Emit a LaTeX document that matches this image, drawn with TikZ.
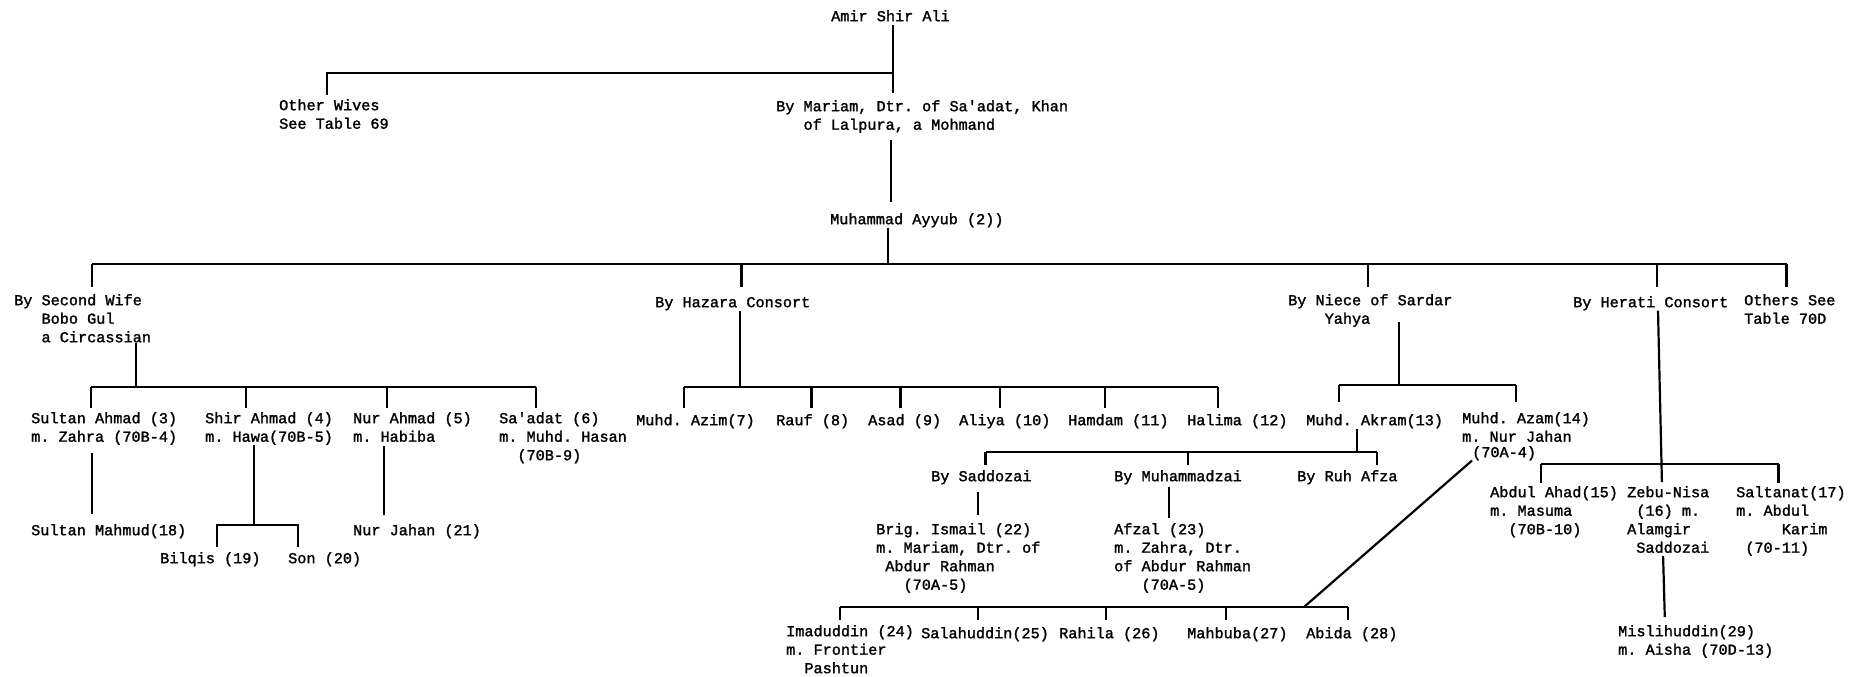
\documentclass[tikz,border=0pt]{standalone}
\usepackage{fontspec}
\setmonofont{Liberation Mono}[FakeBold=1.6]
\newcommand\pad[1]{\hspace*{\dimexpr0.6em*#1\relax}}

\begin{document}
\begin{tikzpicture}[x=1pt,y=-1pt,
    person/.style={anchor=north west,yshift=13pt,inner sep=0pt,align=left,
      execute at begin node={\rule{0pt}{13pt}},
      font=\ttfamily\fontsize{15.2}{18.5}\selectfont\frenchspacing},
    bus/.style={line width=2.2pt},
    drop/.style={bus,shorten >=#1},
    drop/.default=4pt,
    link/.style 2 args={bus,shorten <=#1,shorten >=#2}]
  \fill[white] (0,0) rectangle (1850,677);
  \useasboundingbox (0,0) rectangle (1850,677);
  % top of the table
  \node[person] (amir) at (831,21) {Amir Shir Ali};
  \node[person] (other) at (279,112) {Other Wives\\See Table 69};
  \node[person] (mariam) at (776,113) {By Mariam, Dtr. of Sa'adat, Khan\\\pad{3}of Lalpura, a Mohmand};
  \node[person] (ayyub) at (830,224) {Muhammad Ayyub (2))};
  % wives of Ayyub
  \node[person] (second) at (14,307) {By Second Wife\\\pad{3}Bobo Gul\\\pad{3}a Circassian};
  \node[person] (hazara) at (655,307) {By Hazara Consort};
  \node[person] (niece) at (1288,307) {By Niece of Sardar\\\pad{4}Yahya};
  \node[person] (herati) at (1573,307) {By Herati Consort};
  \node[person] (others) at (1744,307) {Others See\\Table 70D};
  % by the second wife
  \foreach \n/\x/\t in {sultanA/31/{Sultan Ahmad (3)\\m. Zahra (70B-4)},
      shirA/205/{Shir Ahmad (4)\\m. Hawa(70B-5)},
      nurA/353/{Nur Ahmad (5)\\m. Habiba},
      saadat/499/{Sa'adat (6)\\m. Muhd. Hasan\\\pad{2}(70B-9)}}
    \node[person] (\n) at (\x,425) {\t};
  \node[person] (sultanM) at (31,535) {Sultan Mahmud(18)};
  \node[person] (bilqis) at (160,563) {Bilqis (19)};
  \node[person] (son) at (288,563) {Son (20)};
  \node[person] (nurJ) at (353,535) {Nur Jahan (21)};
  % by the Hazara consort
  \foreach \n/\x/\t in {azim/636/Muhd. Azim(7),rauf/776/Rauf (8),asad/868/Asad (9),
      aliya/959/Aliya (10),hamdam/1068/Hamdam (11),halima/1187/Halima (12)}
    \node[person] (\n) at (\x,425) {\t};
  % by the niece of Sardar Yahya
  \node[person] (akram) at (1306,425) {Muhd. Akram(13)};
  \node[person] (azam) at (1462,425) {Muhd. Azam(14)\\m. Nur Jahan};
  \node[person] (azamref) at (1472,457) {(70A-4)};
  \node[person] (saddozai) at (931,481) {By Saddozai};
  \node[person] (muhammadzai) at (1114,481) {By Muhammadzai};
  \node[person] (ruhafza) at (1297,481) {By Ruh Afza};
  \node[person] (ismail) at (876,536) {Brig. Ismail (22)\\m. Mariam, Dtr. of\\\pad{1}Abdur Rahman\\\pad{3}(70A-5)};
  \node[person] (afzal) at (1114,536) {Afzal (23)\\m. Zahra, Dtr.\\of Abdur Rahman\\\pad{3}(70A-5)};
  \node[person] (imad) at (786,638) {Imaduddin (24)\\m. Frontier\\\pad{2}Pashtun};
  \foreach \n/\x/\t in {salah/921/Salahuddin(25),rahila/1059/Rahila (26),
      mahbuba/1187/Mahbuba(27),abida/1306/Abida (28)}
    \node[person] (\n) at (\x,638) {\t};
  % by the Herati consort
  \node[person] (ahad) at (1490,499) {Abdul Ahad(15)\\m. Masuma\\\pad{2}(70B-10)};
  \node[person] (zebu) at (1627,499) {Zebu-Nisa\\\pad{1}(16) m.\\Alamgir\\\pad{1}Saddozai};
  \node[person] (saltanat) at (1736,499) {Saltanat(17)\\m. Abdul\\\pad{5}Karim\\\pad{1}(70-11)};
  \node[person] (misli) at (1618,638) {Mislihuddin(29)\\m. Aisha (70D-13)};

  % lines
  \draw[link={3pt}{7pt}] (893,0 |- amir.south) -- (893,0 |- mariam.north);
  \draw[drop] (893,73) -| (327,0 |- other.north);
  \draw[link={7pt}{9pt}] (891,0 |- mariam.south) -- (891,0 |- ayyub.north);
  \draw[bus] (888,0 |- ayyub.south) -- (888,264);
  \draw[bus] (92,264) -- (1786.5,264);
  \foreach \x/\n in {92/second,741.5/hazara,1368/niece,1657/herati,1786.5/others}
    \draw[drop=7pt] (\x,264) -- (\x,0 |- \n.north);
  % second wife
  \draw[bus] (136,0 |- second.south) -- (136,387);
  \draw[bus] (91,387) -- (536,387);
  \foreach \x/\n in {91/sultanA,246/shirA,387/nurA,536/saadat}
    \draw[drop] (\x,387) -- (\x,0 |- \n.north);
  \draw[link={8pt}{8pt}] (92,0 |- sultanA.south) -- (92,0 |- sultanM.north);
  \draw[bus] (254,0 |- shirA.south) -- (254,525);
  \draw[drop=3pt] (254,525) -| (217,0 |- bilqis.north);
  \draw[drop=3pt] (254,525) -| (298,0 |- son.north);
  \draw[link={4pt}{7pt}] (384,0 |- nurA.south) -- (384,0 |- nurJ.north);
  % Hazara consort
  \draw[bus] (740,0 |- hazara.south) -- (740,387);
  \draw[bus] (684,387) -- (1218,387);
  \foreach \x/\n in {684/azim,811.5/rauf,900.5/asad,1000/aliya,1105/hamdam,1218/halima}
    \draw[drop] (\x,387) -- (\x,0 |- \n.north);
  % niece of Sardar Yahya
  \draw[bus] (1399,322) -- (1399,385);
  \draw[bus] (1339,385) -- (1516,385);
  \foreach \x/\n in {1339/akram,1516/azam}
    \draw[drop=10pt] (\x,385) -- (\x,0 |- \n.north);
  \draw[bus] (1357,0 |- akram.south) -- (1357,452);
  \draw[bus] (985.5,452) -- (1377,452);
  \foreach \x/\n in {985.5/saddozai,1188/muhammadzai,1377/ruhafza}
    \draw[drop=3pt] (\x,452) -- (\x,0 |- \n.north);
  \draw[link={7pt}{8pt}] (977.6,0 |- saddozai.south) -- (977.6,0 |- ismail.north);
  \draw[link={2pt}{5pt}] (1169,0 |- muhammadzai.south) -- (1169,0 |- afzal.north);
  \draw[bus] (840,607) -- (1348,607);
  \foreach \x/\n in {840/imad,977.6/salah,1106/rahila,1226/mahbuba,1348/abida}
    \draw[drop=5pt] (\x,607) -- (\x,0 |- \n.north);
  \draw[bus] (azamref.south west) -- (1304,607);
  % Herati consort
  \draw[link={0pt}{4pt}] (1658,0 |- herati.south) -- (1662,0 |- zebu.north);
  \draw[bus] (1541,464) -- (1778.5,464);
  \foreach \x/\n in {1541/ahad,1778.5/saltanat}
    \draw[drop=3pt] (\x,464) -- (\x,0 |- \n.north);
  \draw[link={3pt}{8pt}] (1663,0 |- zebu.south) -- (1665,0 |- misli.north);
\end{tikzpicture}
\end{document}
